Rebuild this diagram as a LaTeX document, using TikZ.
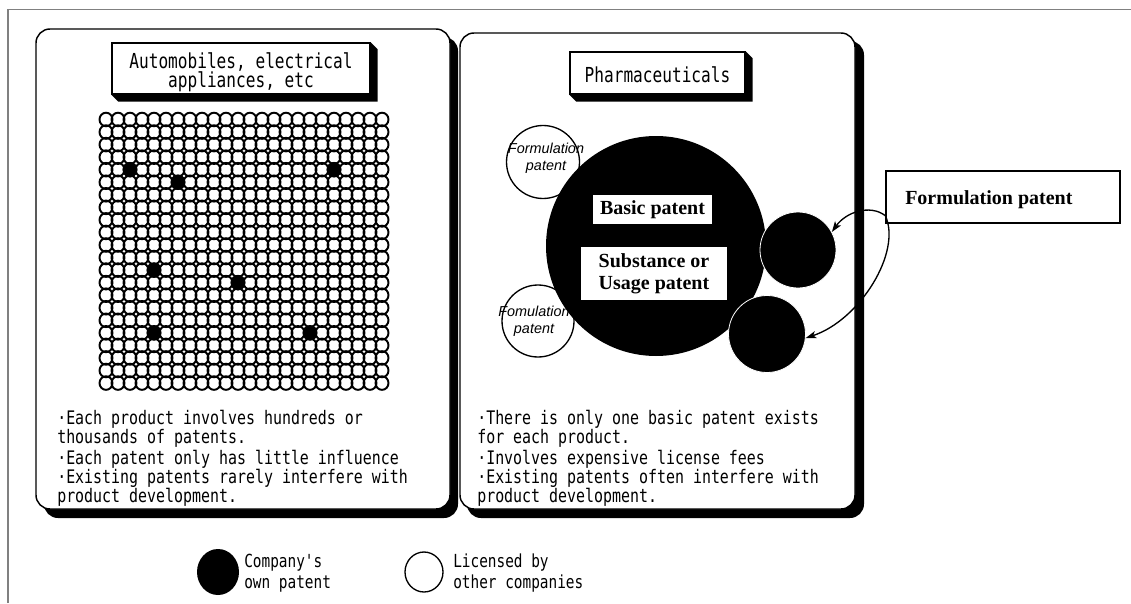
\documentclass[tikz,border=0pt]{standalone}
\usepackage{fontspec}
\usetikzlibrary{arrows.meta,calc,shapes.geometric}
\newfontfamily\gothic[FakeStretch=0.8]{DejaVu Sans Mono}
\newfontfamily\gothictitle[FakeStretch=0.78]{DejaVu Sans Mono}
\newfontfamily\serifface{Liberation Serif}
\newfontfamily\sansface{Liberation Sans}
\newcommand\bodyfont{\gothic\fontsize{14}{14}\selectfont}
\newcommand\titlefont{\gothictitle\fontsize{15.5}{14.25}\selectfont}
\newcommand\legendfont{\gothic\fontsize{13.5}{15.75}\selectfont}
\newcommand\labelfont{\serifface\bfseries\fontsize{15}{16.5}\selectfont}
\newcommand\circfont{\sansface\itshape\fontsize{10.8}{12.75}\selectfont}
\begin{document}
\begin{tikzpicture}[x=0.75pt,y=-0.75pt,
  frame/.style={draw=black!50,line width=0.9pt},
  panel/.style={draw=black,fill=white,line width=1.1pt,rounded corners=10.5pt},
  panelshadow/.style={fill=black,rounded corners=10.5pt},
  titlebox/.style={draw=black,fill=white,line width=1pt,inner sep=0pt},
  titletext/.style={inner sep=0pt,font=\titlefont,align=center},
  bodytext/.style={inner sep=0pt,font=\bodyfont,align=left,anchor=base west},
  gridc/.style={draw=black,line width=1.45pt},
  blackc/.style={circle,fill=black,draw=white,line width=0.6pt,inner sep=0pt},
  whitec/.style={circle,fill=white,draw=black,line width=1pt,inner sep=0pt},
  circlabel/.style={inner sep=0pt,font=\circfont,align=center},
  whitebox/.style={fill=white,inner sep=0pt,font=\labelfont,align=center},
  arr/.style={draw=black,line width=1pt,-{Stealth[length=8pt,width=5.5pt,inset=2pt]}},
  legtext/.style={inner sep=0pt,font=\legendfont,align=left,anchor=west}]

\useasboundingbox (0,0) rectangle (1131,603);
\fill[white] (0,0) rectangle (1131,603);

% outer frame
\draw[frame] (8,603) -- (8,9.5) -- (1131,9.5);

% panels with their shadows
\fill[panelshadow] (44,37) rectangle (458,518);
\draw[panel] (36,29) rectangle (450,509);
\fill[panelshadow] (467,41) rectangle (864,518);
\draw[panel] (460,33) rectangle (855,509);

% ---- left panel ----
\node[titlebox,minimum width=258*0.75pt,minimum height=51*0.75pt] (ttl1) at (241,68.5) {};
\fill ($(ttl1.north east)$) -- ++(7,7) -- ($(ttl1.south east)+(7,7)$)
  -- ($(ttl1.south west)+(7,7)$) -- (ttl1.south west) -- (ttl1.south east) -- cycle;
\node[titletext] (ttl1txt) at (241,72.5) {Automobiles, electrical\\appliances, etc};

% patent grid
\foreach \i in {0,...,23}
  \foreach \j in {0,...,21}
    \draw[gridc] ({106+12*\i},{119.5+12.55*\j}) ellipse[x radius=6.5,y radius=6.8];
\foreach \i/\j in {2/4,6/5,19/4,4/12,11/13,4/17,17/17}
  \fill ({106+12*\i},{119.5+12.55*\j}) ellipse[x radius=7.3,y radius=7.6];

\node[bodytext] (l1) at (57,443) {·Each product involves hundreds or\\thousands of patents.};
\node[bodytext] (l2) at (57,464) {·Each patent only has little influence};
\node[bodytext] (l3) at (57,502) {·Existing patents rarely interfere with\\product development.};

% ---- right panel ----
\node[titlebox,minimum width=175*0.75pt,minimum height=42*0.75pt] (ttl2) at (657.5,73) {};
\fill ($(ttl2.north east)$) -- ++(7,7) -- ($(ttl2.south east)+(7,7)$)
  -- ($(ttl2.south west)+(7,7)$) -- (ttl2.south west) -- (ttl2.south east) -- cycle;
\node[titletext] (ttl2txt) at (657.5,75) {Pharmaceuticals};

\node[whitec,minimum size=73*0.75pt] (wc1) at (543,162) {};
\node[whitec,minimum size=72*0.75pt] (wc2) at (538,321) {};
\node[circlabel] (wl1) at (546,158.5) {Formulation\\patent};
\node[circlabel] (wl2) at (534,321.5) {Fomulation\\patent};

\node[blackc,draw=none,minimum size=220*0.75pt] (basic) at (656,246) {};
\node[blackc,minimum size=76*0.75pt] (sc1) at (798,250) {};
\node[blackc,minimum size=77*0.75pt] (sc2) at (767,334) {};

\node[whitebox,minimum width=119*0.75pt,minimum height=29*0.75pt] (bp) at (652.5,209.5) {Basic patent};
\node[whitebox,minimum width=146*0.75pt,minimum height=53*0.75pt] (su) at (654,273.5) {Substance or\\Usage patent};

\node[bodytext] (r1) at (477,443) {·There is only one basic patent exists\\for each product.};
\node[bodytext] (r2) at (477,464) {·Involves expensive license fees};
\node[bodytext] (r3) at (477,502) {·Existing patents often interfere with\\product development.};

% ---- formulation patent callout ----
\node[draw=black,line width=1pt,fill=white,minimum width=234*0.75pt,minimum height=52*0.75pt] (fbox) at (1003,197) {};
\node[inner sep=0pt,anchor=west,font=\labelfont] (ftxt) at (905,200) {Formulation patent};
\coordinate (fstart) at ($(fbox.south west)+(0,-8)$);
\draw[arr] (fstart) .. controls (870,204) and (846,212) .. (sc1.28);
\draw[arr] (fstart) .. controls (902,252) and (860,320) .. (sc2.-6);

% ---- legend ----
\node[ellipse,fill=black,inner sep=0pt,minimum width=42*0.75pt,minimum height=46*0.75pt] (own) at (218,572) {};
\node[legtext] (owntxt) at (244,573) {Company's\\own patent};
\node[ellipse,draw=black,line width=1pt,inner sep=0pt,minimum width=38*0.75pt,minimum height=40*0.75pt] (lic) at (424,572) {};
\node[legtext] (lictxt) at (453,573) {Licensed by\\other companies};
\end{tikzpicture}
\end{document}
